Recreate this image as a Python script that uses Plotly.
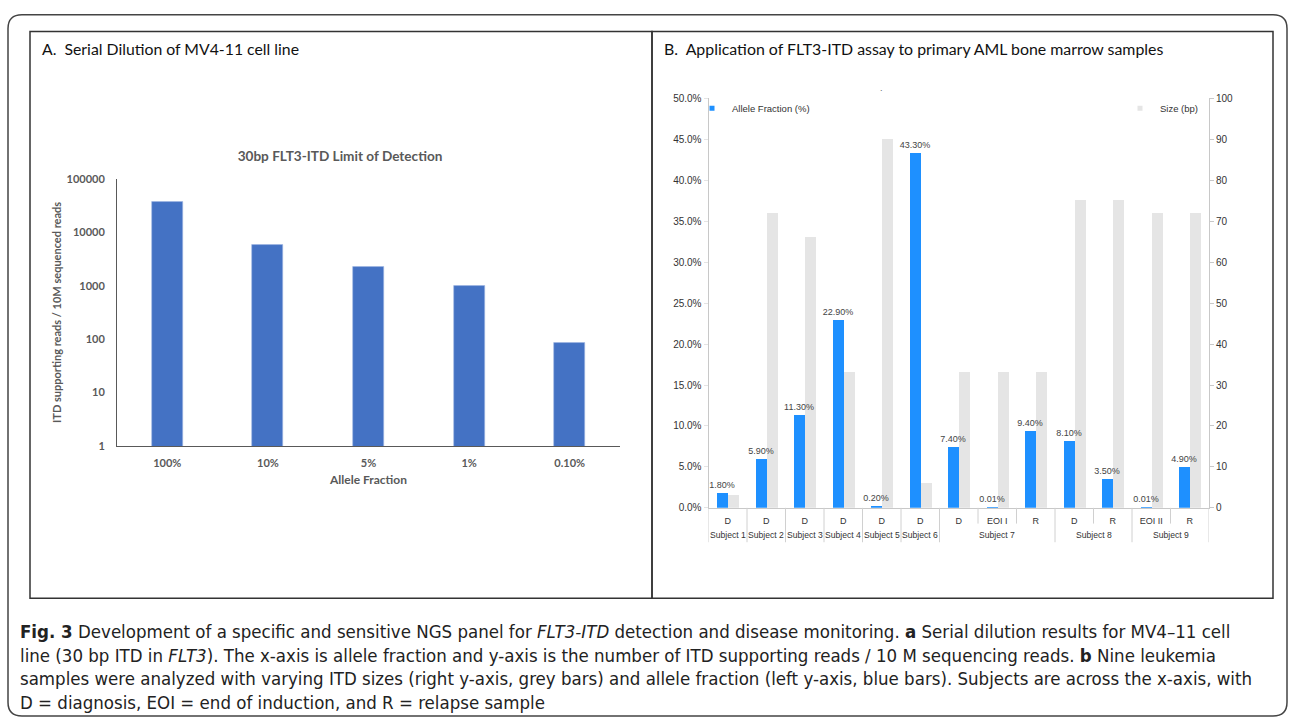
import plotly.graph_objects as go

W, H = 1290, 726

# ---------------- data ----------------
# Panel A: serial dilution
dilution_labels = ["100%", "10%", "5%", "1%", "0.10%"]
itd_reads = [37000, 5700, 2300, 1000, 86]
log_tick_vals = [1, 10, 100, 1000, 10000, 100000]
log_tick_text = ["1", "10", "100", "1000", "10000", "100000"]

# Panel B: primary AML samples
subjects = ["Subject 1", "Subject 2", "Subject 3", "Subject 4", "Subject 5", "Subject 6",
            "Subject 7", "Subject 7", "Subject 7", "Subject 8", "Subject 8", "Subject 9", "Subject 9"]
samples = ["D", "D", "D", "D", "D", "D", "D", "EOI I", "R", "D", "R", "EOI II", "R"]
allele_fraction = [1.8, 5.9, 11.3, 22.9, 0.2, 43.3, 7.4, 0.01, 9.4, 8.1, 3.5, 0.01, 4.9]
itd_size_bp = [3, 72, 66, 33, 90, 6, 33, 33, 33, 75, 75, 72, 72]

caption_lines = [
    "<b>Fig. 3</b> Development of a specific and sensitive NGS panel for <i>FLT3-ITD</i> detection and disease monitoring. <b>a</b> Serial dilution results for MV4–11 cell",
    "line (30 bp ITD in <i>FLT3</i>). The x-axis is allele fraction and y-axis is the number of ITD supporting reads / 10 M sequencing reads. <b>b</b> Nine leukemia",
    "samples were analyzed with varying ITD sizes (right y-axis, grey bars) and allele fraction (left y-axis, blue bars). Subjects are across the x-axis, with",
    "D = diagnosis, EOI = end of induction, and R = relapse sample",
]


def px(x):
    return x / W


def py(y):
    return 1 - y / H


CAL = "Lato, 'Open Sans', sans-serif"
HEL = "'Liberation Sans', Arial, sans-serif"
CAP = "'Liberation Sans Narrow', 'DejaVu Sans Condensed', sans-serif"
GREY_TXT = "#595959"
CLEAR = "rgba(0,0,0,0)"

idx = list(range(len(samples)))

fig = go.Figure()

# Panel A bars
fig.add_trace(go.Bar(
    x=dilution_labels, y=itd_reads, xaxis="x", yaxis="y",
    marker=dict(color="#4472C4", line=dict(width=0.6, color="#9DB5E3")),
    width=0.31, showlegend=False, name="ITD reads"))

# Panel B bars
fig.add_trace(go.Bar(
    x=idx, y=itd_size_bp, xaxis="x2", yaxis="y3",
    customdata=list(zip(subjects, samples)),
    marker=dict(color="#E5E5E5", line=dict(width=0)),
    offset=0.0, width=0.285, name="Size (bp)", showlegend=False,
    legendgroup="size"))
fig.add_trace(go.Bar(
    x=idx, y=allele_fraction, xaxis="x2", yaxis="y4",
    customdata=list(zip(subjects, samples)),
    marker=dict(color="#1E90FF", line=dict(width=0)),
    offset=-0.28, width=0.28, name="Allele Fraction (%)", showlegend=False,
    texttemplate="%{y:.2f}%", textposition="outside", cliponaxis=False,
    constraintext="none",
    textfont=dict(size=9, color="#444", family=HEL), legendgroup="af"))

# legend proxies (small square symbols)
fig.add_trace(go.Scatter(
    x=[None], y=[None], xaxis="x", yaxis="y", mode="markers",
    marker=dict(symbol="square", size=5, color="#1E90FF"),
    name="Allele Fraction (%)", legend="legend", legendgroup="af"))
fig.add_trace(go.Scatter(
    x=[None], y=[None], xaxis="x", yaxis="y", mode="markers",
    marker=dict(symbol="square", size=5, color="#E5E5E5"),
    name="Size (bp)", legend="legend2", legendgroup="size"))

shapes = [
    dict(type="rect", xref="paper", yref="paper", x0=px(30), x1=px(652), y0=py(602), y1=py(25),
         line=dict(color="#333", width=1.5)),
    dict(type="rect", xref="paper", yref="paper", x0=px(652), x1=px(1273), y0=py(602), y1=py(25),
         line=dict(color="#333", width=1.5)),
]
# outer rounded frame
x0, x1, yb, yt = px(8), px(1287), py(722), py(8)
rx, ry = 14 / W, 14 / H
path = (f"M {x0+rx},{yt} L {x1-rx},{yt} Q {x1},{yt} {x1},{yt-ry} L {x1},{yb+ry} "
        f"Q {x1},{yb} {x1-rx},{yb} L {x0+rx},{yb} Q {x0},{yb} {x0},{yb+ry} "
        f"L {x0},{yt-ry} Q {x0},{yt} {x0+rx},{yt} Z")
shapes.append(dict(type="path", xref="paper", yref="paper", path=path,
                   line=dict(color="#444", width=1.5)))

# category dividers below panel B x-axis (derived from the subject grouping)
n = len(samples)
for i in range(n + 1):
    outer = i == 0 or i == n or subjects[i] != subjects[i - 1]
    shapes.append(dict(type="line", xref="x2", yref="paper",
                       x0=i - 0.5, x1=i - 0.5, y0=py(510), y1=py(545 if outer else 526),
                       line=dict(color="#d0d0d0", width=1)))

annotations = [
    dict(text="A.\u00a0 Serial Dilution of MV4-11 cell line", x=px(40), y=py(42),
         xref="paper", yref="paper", xanchor="left", yanchor="middle", showarrow=False,
         font=dict(family=CAL, size=15.8, color="#111")),
    dict(text="B.\u00a0 Application of FLT3-ITD assay to primary AML bone marrow samples", x=px(662), y=py(42),
         xref="paper", yref="paper", xanchor="left", yanchor="middle", showarrow=False,
         font=dict(family=CAL, size=15.9, color="#111")),
    dict(text=".", x=px(885), y=py(75), xref="paper", yref="paper", showarrow=False,
         font=dict(family=HEL, size=9, color="#666")),
]
# subject group labels
seen = []
for s in subjects:
    if s not in seen:
        seen.append(s)
for s in seen:
    members = [i for i, v in enumerate(subjects) if v == s]
    annotations.append(dict(
        text=s, x=sum(members) / len(members), y=py(538), xref="x2", yref="paper",
        xanchor="center", yanchor="middle", showarrow=False,
        font=dict(family=HEL, size=8.6, color="#333")))

for i, line in enumerate(caption_lines):
    annotations.append(dict(
        text=line, x=px(18), y=py(636 + 24 * i), xref="paper", yref="paper",
        xanchor="left", yanchor="middle", showarrow=False,
        font=dict(family=CAP, size=18.5, color="#222")))

fig.update_layout(
    width=W, height=H, margin=dict(l=0, r=0, t=0, b=0),
    paper_bgcolor="white", plot_bgcolor="rgba(0,0,0,0)",
    barmode="overlay", bargap=0,
    title=dict(text="<b>30bp FLT3-ITD Limit of Detection</b>", x=px(340), y=py(152),
               xanchor="center", yanchor="middle", xref="paper", yref="paper",
               font=dict(family=CAL, size=13.6, color=GREY_TXT)),
    xaxis=dict(domain=[px(117), px(620)], anchor="y", type="category",
               showline=True, linecolor="#595959", linewidth=1,
               ticks="outside", ticklen=7, tickcolor=CLEAR,
               showgrid=False, zeroline=False,
               tickfont=dict(family=CAL, size=11, color=GREY_TXT, weight="bold"),
               title=dict(text="Allele Fraction", standoff=7,
                          font=dict(family=CAL, size=12, color=GREY_TXT, weight="bold"))),
    yaxis=dict(domain=[py(447), py(175)], anchor="x", type="log", range=[0, 5],
               showline=True, linecolor="#595959", linewidth=1,
               ticks="outside", ticklen=9, tickcolor=CLEAR,
               showgrid=False, zeroline=False,
               tickvals=log_tick_vals, ticktext=log_tick_text,
               tickfont=dict(family=CAL, size=11, color=GREY_TXT, weight="bold"),
               title=dict(text="ITD supporting reads / 10M sequenced reads", standoff=2,
                          font=dict(family=CAL, size=11, color=GREY_TXT, weight="bold"))),
    xaxis2=dict(domain=[px(708.5), px(1209)], anchor="y3", range=[-0.5, n - 0.5],
                showline=True, linecolor="#c8c8c8", linewidth=1,
                tickvals=idx, ticktext=samples,
                ticks="outside", ticklen=4, tickcolor=CLEAR,
                showgrid=False, zeroline=False,
                tickfont=dict(family=HEL, size=9, color="#333")),
    yaxis3=dict(domain=[py(510), py(93)], anchor="x2", side="right", range=[0, 100], dtick=10,
                showline=True, linecolor="#c8c8c8", linewidth=1,
                ticks="outside", ticklen=4, tickcolor="#c8c8c8",
                showgrid=False, zeroline=False,
                tickfont=dict(family=HEL, size=10, color="#333")),
    yaxis4=dict(overlaying="y3", anchor="x2", side="left", range=[0, 50], dtick=5,
                ticksuffix="%", tickformat=".1f",
                showline=True, linecolor="#c8c8c8", linewidth=1,
                ticks="outside", ticklen=4, tickcolor="#e4e4e4",
                showgrid=False, zeroline=False,
                tickfont=dict(family=HEL, size=10, color="#333")),
    legend=dict(x=px(692), y=py(103), xanchor="left", yanchor="middle",
                bgcolor=CLEAR, itemwidth=30,
                font=dict(family=HEL, size=9.5, color="#333")),
    legend2=dict(x=px(1120), y=py(103), xanchor="left", yanchor="middle",
                 bgcolor=CLEAR, itemwidth=30,
                 font=dict(family=HEL, size=9.5, color="#333")),
    shapes=shapes, annotations=annotations,
)

fig.write_html("out.html", config={"displayModeBar": False},
               post_script="document.body.style.margin='0px';")
